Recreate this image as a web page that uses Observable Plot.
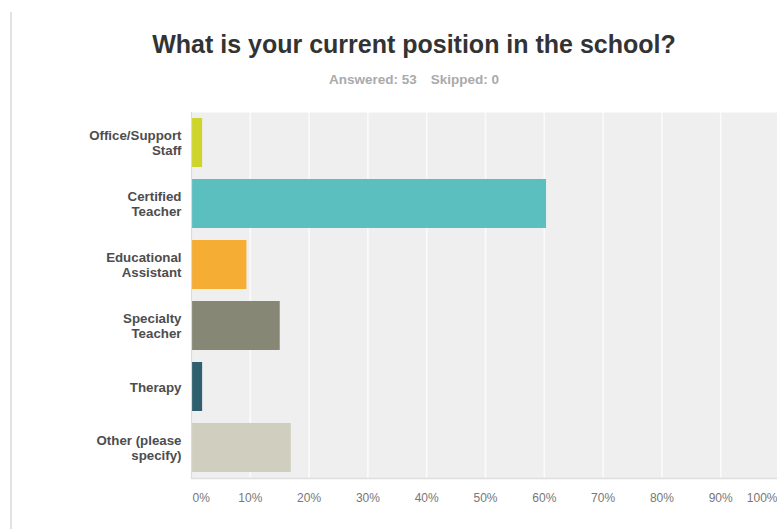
<!DOCTYPE html>
<html>
<head>
<meta charset="utf-8">
<script src="https://cdn.jsdelivr.net/npm/d3@7"></script>
<script src="https://cdn.jsdelivr.net/npm/@observablehq/plot@0.6"></script>
<style>
  html, body { margin: 0; padding: 0; background: #fff; }
  #wrap { position: relative; width: 777px; height: 529px; overflow: hidden; font-family: "Liberation Sans", Arial, sans-serif; }
  #border { position: absolute; left: 10px; top: 12px; width: 1.5px; height: 517px; background: #e2e2e2; }
  #title { position: absolute; left: 0; width: 828px; top: 29px; text-align: center; font-size: 25px; font-weight: bold; color: #333; line-height: 30px; }
  #sub { position: absolute; left: 0; width: 828px; top: 72px; text-align: center; font-size: 13.5px; font-weight: bold; color: #aaa; }
  #sub span { margin: 0 7px; }
  #chart { position: absolute; left: 0; top: 100px; }
</style>
</head>
<body>
<div id="wrap">
  <div id="border"></div>
  <div id="title">What is your current position in the school?</div>
  <div id="sub"><span>Answered: 53</span><span>Skipped: 0</span></div>
  <div id="chart"></div>
</div>
<script>
const categories = ["Office/Support Staff", "Certified Teacher", "Educational Assistant", "Specialty Teacher", "Therapy", "Other (please specify)"];
const labels = ["Office/Support\nStaff", "Certified\nTeacher", "Educational\nAssistant", "Specialty\nTeacher", "Therapy", "Other (please\nspecify)"];
const values = [1.89, 60.38, 9.43, 15.09, 1.89, 16.98];
const colors = ["#cdd52b", "#5bbfbf", "#f5ae33", "#868775", "#2e5f6e", "#d0cfbf"];
const ticks = [0, 10, 20, 30, 40, 50, 60, 70, 80, 90, 100];

const data = categories.map((c, i) => ({cat: c, label: labels[i], value: values[i], color: colors[i]}));

const chart = Plot.plot({
  width: 777,
  height: 429,
  marginLeft: 191,
  marginRight: -2,
  marginTop: 12,
  marginBottom: 51,
  style: {fontFamily: "'Liberation Sans', Arial, sans-serif", background: "transparent"},
  x: {domain: [0, 100], axis: null},
  y: {domain: categories, axis: null, paddingInner: 0.2, paddingOuter: 0.1},
  marks: [
    Plot.frame({fill: "#efefef", stroke: null}),
    Plot.ruleX(ticks.slice(1), {stroke: "#fbfbfb", strokeWidth: 1.6}),
    Plot.barX(data, {x: "value", y: "cat", fill: "color"}),
    Plot.ruleX([0], {stroke: "#dcdcdc", strokeWidth: 1.2}),
    Plot.frame({anchor: "bottom", stroke: "#dedede", strokeWidth: 1.5}),
    Plot.text(data, {y: "cat", text: "label", frameAnchor: "left", textAnchor: "end", dx: -10, fontSize: 13.3, fontWeight: "bold", fill: "#4d4d4d", lineHeight: 1.12}),
    Plot.text(ticks.slice(0, 1), {x: d => d, text: d => d + "%", frameAnchor: "bottom", dy: 23, textAnchor: "start", dx: 1, fontSize: 12, fill: "#777"}),
    Plot.text(ticks.slice(1, -1), {x: d => d, text: d => d + "%", frameAnchor: "bottom", dy: 23, fontSize: 12, fill: "#777"}),
    Plot.text(ticks.slice(-1), {x: d => d, text: d => d + "%", frameAnchor: "bottom", dy: 23, textAnchor: "end", dx: -2, fontSize: 12, fill: "#777"})
  ]
});
document.getElementById("chart").appendChild(chart);
</script>
</body>
</html>
